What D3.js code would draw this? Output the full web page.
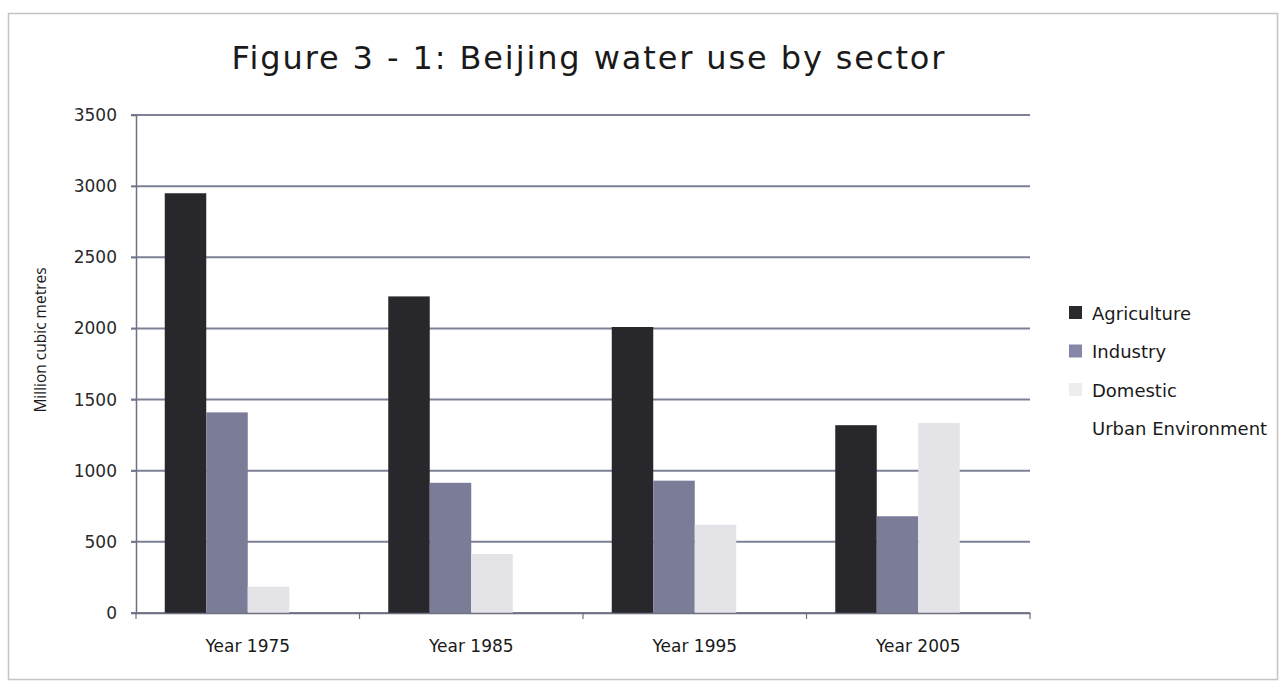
<!DOCTYPE html>
<html>
<head>
<meta charset="utf-8">
<script src="https://cdn.jsdelivr.net/npm/d3@7"></script>
<style>
    body { margin: 0; background: #fff; }
    svg { display: block; }
</style>
</head>
<body>
<div class="main"></div>
<script>
const years = ["Year 1975", "Year 1985", "Year 1995", "Year 2005"];
const sectors = ["Agriculture", "Industry", "Domestic", "Urban Environment"];
const agriculture = [2950, 2225, 2010, 1320];
const industry = [1410, 915, 930, 680];
const domestic = [185, 415, 620, 1335];
const urbanEnv = [0, 0, 0, 0];
const yTicks = [0, 500, 1000, 1500, 2000, 2500, 3000, 3500];
const colors = ["#28272b", "#7b7c98", "#e4e4e8", "#ffffff"];
const swatchColors = ["#2a292d", "#8686a8", "#ededf0", "#ffffff"];

const series = [agriculture, industry, domestic, urbanEnv];

const width = 1281, height = 684;
const margin = { top: 115, left: 136, right: 251, bottom: 71 };
const font = "DejaVu Sans, Verdana, sans-serif";

const svg = d3.select(".main").append("svg")
    .attr("width", width)
    .attr("height", height);

// outer frame
svg.append("rect")
    .attr("x", 8.5).attr("y", 13.5)
    .attr("width", 1269).attr("height", 666)
    .attr("fill", "#fff")
    .attr("stroke", "#c4c4c4")
    .attr("stroke-width", 1.5);

svg.append("text")
    .text("Figure 3 - 1: Beijing water use by sector")
    .attr("x", 588)
    .attr("y", 69)
    .attr("text-anchor", "middle")
    .attr("font-family", font)
    .attr("font-size", 32)
    .attr("textLength", 713)
    .attr("fill", "#1a1a1a");

const x = d3.scaleBand()
    .domain(years)
    .range([margin.left, width - margin.right]);

const y = d3.scaleLinear()
    .domain([0, 3500])
    .range([height - margin.bottom, margin.top]);

const inner = d3.scaleBand()
    .domain(sectors)
    .range([28.75, x.bandwidth() - 28.75]);

// gridlines
svg.append("g")
    .selectAll("line")
    .data(yTicks)
    .enter()
    .append("line")
    .attr("x1", margin.left - 5)
    .attr("x2", width - margin.right)
    .attr("y1", d => y(d))
    .attr("y2", d => y(d))
    .attr("stroke", "#7d8097")
    .attr("stroke-width", 2);

// bars
const group = svg.append("g")
    .selectAll("g")
    .data(years)
    .enter()
    .append("g")
    .attr("transform", d => "translate(" + x(d) + ",0)");

group.selectAll("rect")
    .data((d, i) => sectors.map((s, j) => ({ s: s, v: series[j][i], j: j })))
    .enter()
    .append("rect")
    .attr("x", d => inner(d.s))
    .attr("y", d => y(d.v))
    .attr("width", inner.bandwidth())
    .attr("height", d => y(0) - y(d.v))
    .attr("fill", d => colors[d.j]);

// y axis
const yAxis = svg.append("g")
    .attr("transform", "translate(" + margin.left + ",0)")
    .call(d3.axisLeft(y).tickValues(yTicks).tickFormat(d3.format("d")).tickSize(5).tickPadding(14));

yAxis.select(".domain").attr("stroke", "#6e7180").attr("stroke-width", 1.5);
yAxis.selectAll(".tick line").attr("stroke", "#6e7180");
yAxis.selectAll("text")
    .attr("font-family", font)
    .attr("font-size", 17)
    .attr("fill", "#2a2a2a");

// x axis
const xAxis = svg.append("g")
    .attr("transform", "translate(0," + y(0) + ")")
    .call(d3.axisBottom(x).tickSize(0).tickPadding(27));

xAxis.select(".domain").attr("stroke", "#6e7180").attr("stroke-width", 1.5);
xAxis.selectAll("text")
    .attr("font-family", font)
    .attr("font-size", 17)
    .attr("fill", "#1a1a1a");

svg.append("g")
    .selectAll("line")
    .data(years.concat(["end"]))
    .enter()
    .append("line")
    .attr("x1", (d, i) => i < years.length ? x(d) : x.range()[1])
    .attr("x2", (d, i) => i < years.length ? x(d) : x.range()[1])
    .attr("y1", y(0))
    .attr("y2", y(0) + 6)
    .attr("stroke", "#6e7180")
    .attr("stroke-width", 1.2);

// y axis title
svg.append("text")
    .text("Million cubic metres")
    .attr("transform", "translate(46,340) rotate(-90)")
    .attr("text-anchor", "middle")
    .attr("font-family", "Open Sans, Liberation Sans, sans-serif")
    .attr("font-size", 15.5)
    .attr("fill", "#1a1a1a");

// legend
const legend = svg.append("g")
    .selectAll("g")
    .data(sectors)
    .enter()
    .append("g")
    .attr("transform", (d, i) => "translate(1069," + (313 + i * 38.5) + ")");

legend.append("rect")
    .attr("x", 0)
    .attr("y", -7)
    .attr("width", 13)
    .attr("height", 13)
    .attr("fill", (d, i) => swatchColors[i]);

legend.append("text")
    .text(d => d)
    .attr("x", 23)
    .attr("y", 6.5)
    .attr("font-family", font)
    .attr("font-size", 18)
    .attr("fill", "#1a1a1a");
</script>
</body>
</html>
